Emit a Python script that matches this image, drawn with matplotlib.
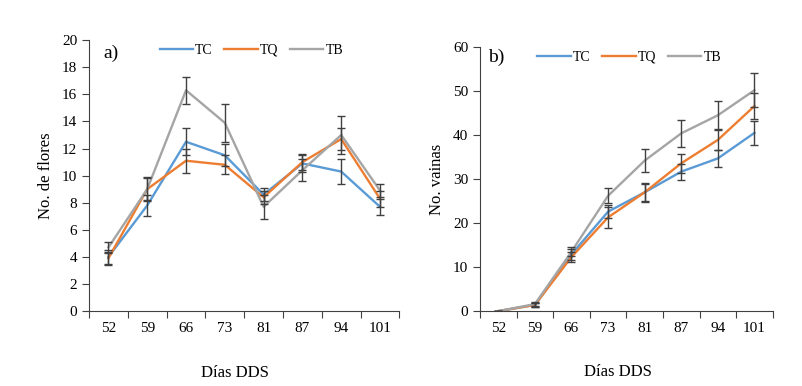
import matplotlib
matplotlib.use("Agg")
import matplotlib.pyplot as plt
import numpy as np

plt.rcParams['font.family'] = ['Liberation Serif', 'DejaVu Serif']

days = ["52", "59", "66", "73", "81", "87", "94", "101"]
series_names = ["TC", "TQ", "TB"]
colors = ["#5B9BD5", "#ED7D31", "#A5A5A5"]

# Panel a: No. de flores
flores_TC = [4.0, 7.8, 12.5, 11.5, 8.6, 10.9, 10.3, 7.7]
flores_TQ = [3.9, 9.0, 11.1, 10.8, 8.4, 11.0, 12.7, 8.3]
flores_TB = [4.7, 9.0, 16.3, 13.9, 7.7, 10.4, 13.0, 8.9]
err_flores_TC = [0.5, 0.8, 1.0, 0.8, 0.5, 0.6, 0.9, 0.6]
err_flores_TQ = [0.5, 0.9, 0.9, 0.7, 0.5, 0.6, 0.8, 0.6]
err_flores_TB = [0.4, 0.8, 1.0, 1.4, 0.9, 0.8, 1.4, 0.5]

# Panel b: No. vainas
vainas_TC = [0.0, 1.4, 12.9, 22.6, 27.0, 31.7, 34.7, 40.5]
vainas_TQ = [0.0, 1.4, 12.3, 21.3, 27.0, 33.6, 38.9, 46.6]
vainas_TB = [0.0, 1.6, 13.5, 26.2, 34.2, 40.4, 44.5, 50.2]
err_vainas_TC = [0.0, 0.4, 1.2, 1.5, 2.2, 1.8, 1.9, 2.8]
err_vainas_TQ = [0.0, 0.4, 1.2, 2.3, 2.0, 2.1, 2.2, 3.0]
err_vainas_TB = [0.0, 0.4, 1.0, 1.7, 2.6, 3.0, 3.2, 3.8]

fig = plt.figure(figsize=(8.02, 3.86), dpi=100)
ax1 = fig.add_axes([0.111, 0.194, 0.387, 0.702])
ax2 = fig.add_axes([0.5985, 0.194, 0.365, 0.684])

x = np.arange(len(days))

def draw(ax, data, errs, ylim, yticks, ylabel, panel, panel_xy, legend_xy):
    for vals, err, c, name in zip(data, errs, colors, series_names):
        ax.plot(x, vals, color=c, lw=1.7, label=name, zorder=2)
        ax.errorbar(x, vals, yerr=err, fmt='none', ecolor='#404040',
                    elinewidth=1, capsize=3, capthick=1, zorder=3)
    ax.set_xlim(-0.5, len(days) - 0.5)
    ax.set_ylim(*ylim)
    ax.set_yticks(yticks)
    ax.set_xticks(np.arange(-0.5, len(days)), minor=False)
    ax.set_xticklabels([])
    ax.set_xticks(x, minor=True)
    ax.set_xticklabels(days, minor=True)
    ax.tick_params(axis='x', which='minor', length=0, pad=8, labelsize=11)
    ax.tick_params(axis='x', which='major', length=5, direction='out', color='#404040')
    ax.tick_params(axis='y', length=5, direction='out', labelsize=11, color='#404040')
    for s in ['top', 'right']:
        ax.spines[s].set_visible(False)
    for s in ['left', 'bottom']:
        ax.spines[s].set_color('#404040')
    ax.set_ylabel(ylabel, fontsize=12, labelpad=6)
    ax.set_xlabel("Días DDS", fontsize=12, labelpad=20)
    ax.xaxis.set_label_coords(0.47, -0.2)
    ax.text(panel_xy[0], panel_xy[1], panel, transform=ax.transAxes, fontsize=14,
            va='center', ha='left')
    ax.legend(loc='center', bbox_to_anchor=legend_xy, ncol=3, frameon=False,
              fontsize=10, handlelength=2.4, columnspacing=0.85, handletextpad=0.15,
              borderpad=0.2)

draw(ax1, [flores_TC, flores_TQ, flores_TB], [err_flores_TC, err_flores_TQ, err_flores_TB],
     (0, 20), np.arange(0, 21, 2), "No. de flores", "a)", (0.045, 0.952), (0.523, 0.963))
draw(ax2, [vainas_TC, vainas_TQ, vainas_TB], [err_vainas_TC, err_vainas_TQ, err_vainas_TB],
     (0, 60), np.arange(0, 61, 10), "No. vainas", "b)", (0.028, 0.962), (0.51, 0.962))

fig.savefig("out.png", dpi=100)
